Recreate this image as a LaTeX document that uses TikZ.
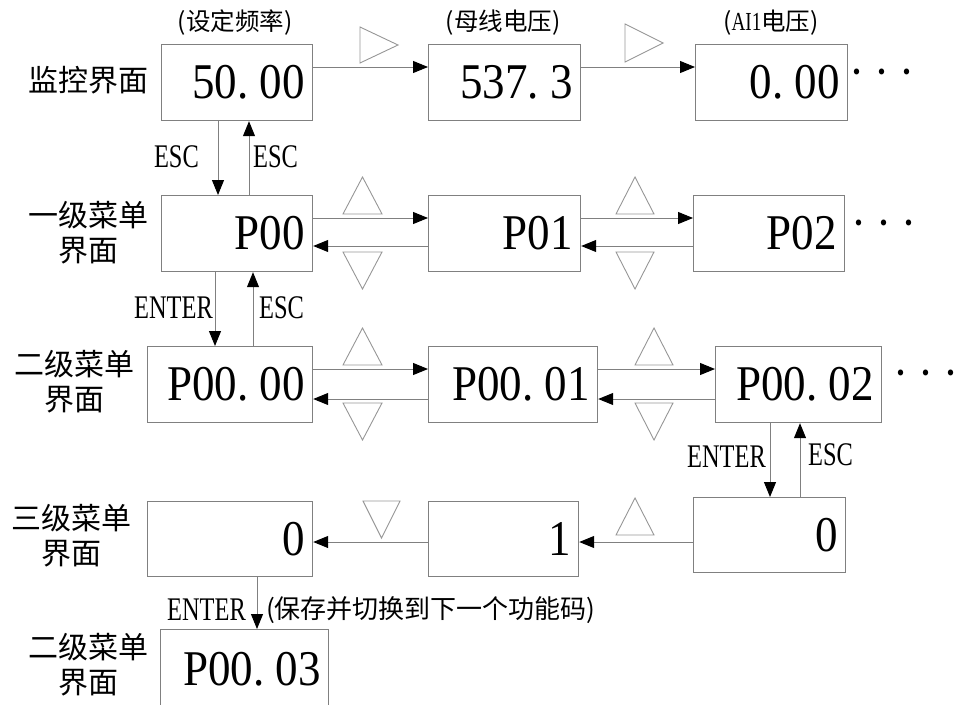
\documentclass[tikz,border=0pt]{standalone}
\usepackage{fontspec}
\setmainfont{Liberation Serif}
\newfontfamily\cjk{Noto Sans CJK SC}
\newfontfamily\boxfont[FakeStretch=0.9]{Liberation Serif}
\newfontfamily\lblfont[FakeStretch=0.74]{Liberation Serif}
\usetikzlibrary{arrows.meta}
\definecolor{ln}{RGB}{128,128,128}
\definecolor{tri}{RGB}{150,150,150}
\newcommand{\pd}{.\hspace{0.225em}}
\newcommand{\threedots}{·\hspace{10pt}·\hspace{10pt}·}
\begin{document}
\begin{tikzpicture}[x=1pt,y=-1pt,
  box/.style={draw=ln,line width=1.2pt,inner xsep=8pt,inner ysep=0pt,align=right,
    font=\boxfont\fontsize{50}{50}\selectfont,anchor=north west},
  arr/.style={draw=ln,line width=1pt,-{Triangle[length=15pt,width=12pt,color=black]}},
  trib/.style={draw=tri,line width=0.9pt,line join=miter},
  rowlbl/.style={align=center,font=\cjk\fontsize{30}{35}\selectfont,inner sep=0},
  keylbl/.style={font=\lblfont\fontsize{33}{33}\selectfont,inner sep=0},
  note/.style={font=\cjk\fontsize{24.5}{24.5}\selectfont,inner sep=0},
  dotsn/.style={font=\boxfont\fontsize{50}{50}\selectfont,inner sep=0,anchor=base west}
]
\useasboundingbox (0,0) rectangle (957,704);

% row labels
\node[rowlbl] (l1) at (88,80) {监控界面};
\node[rowlbl] (l2) at (88,233) {一级菜单\\界面};
\node[rowlbl] (l3) at (74,382) {二级菜单\\界面};
\node[rowlbl] (l4) at (71,536) {三级菜单\\界面};
\node[rowlbl] (l5) at (88,665) {二级菜单\\界面};

% notes
\node[note] (n1) at (235,23) {(设定频率)};
\node[note] (n2) at (503,23) {(母线电压)};
\node[note] (n3) at (771,23) {({\lblfont\fontsize{26}{26}\selectfont AI1}电压)};

% row 1
\node[box,text width=135pt,minimum height=76pt] (m1) at (161,44) {50\pd00};
\node[box,text width=136pt,minimum height=76pt] (m2) at (428,44) {537\pd3};
\node[box,text width=136pt,minimum height=76pt] (m3) at (695,44) {0\pd00};
\node[dotsn] (d1) at (849,88) {\threedots};

% row 2
\node[box,text width=135pt,minimum height=76pt] (a1) at (161,195) {P00};
\node[box,text width=136pt,minimum height=76pt] (a2) at (428,195) {P01};
\node[box,text width=135pt,minimum height=76pt] (a3) at (693,195) {P02};
\node[dotsn] (d2) at (851,239) {\threedots};

% row 3
\node[box,text width=149pt,minimum height=76pt] (b1) at (147,346) {P00\pd00};
\node[box,text width=153pt,minimum height=76pt] (b2) at (428,346) {P00\pd01};
\node[box,text width=150pt,minimum height=76pt] (b3) at (715,346) {P00\pd02};
\node[dotsn] (d3) at (893,389) {\threedots};

% row 4
\node[box,text width=149pt,minimum height=75pt] (c1) at (147,501) {0};
\node[box,text width=134pt,minimum height=75pt] (c2) at (428,501) {1};
\node[box,text width=136pt,minimum height=75pt] (c3) at (693,497) {0};

% row 5
\node[box,text width=152pt,minimum height=80pt] (e1) at (160,629) {P00\pd03};

% horizontal arrows
\draw[arr] (m1.east |- 0,67) -- (m2.west |- 0,67);
\draw[arr] (m2.east |- 0,67) -- (m3.west |- 0,67);
\draw[arr] (a1.east |- 0,218) -- (a2.west |- 0,218);
\draw[arr] (a2.west |- 0,246) -- (a1.east |- 0,246);
\draw[arr] (a2.east |- 0,218) -- (a3.west |- 0,218);
\draw[arr] (a3.west |- 0,246) -- (a2.east |- 0,246);
\draw[arr] (b1.east |- 0,369) -- (b2.west |- 0,369);
\draw[arr] (b2.west |- 0,399) -- (b1.east |- 0,399);
\draw[arr] (b2.east |- 0,369) -- (b3.west |- 0,369);
\draw[arr] (b3.west |- 0,399) -- (b2.east |- 0,399);
\draw[arr] (c3.west |- 0,542) -- (c2.east |- 0,542);
\draw[arr] (c2.west |- 0,542) -- (c1.east |- 0,542);

% vertical arrows
\draw[arr] ([xshift=57pt]m1.south west) -- ([xshift=57pt]m1.south west |- a1.north);
\draw[arr] ([xshift=88pt]m1.south west |- a1.north) -- ([xshift=88pt]m1.south west);
\draw[arr] ([xshift=54pt]a1.south west) -- ([xshift=54pt]a1.south west |- b1.north);
\draw[arr] ([xshift=92pt]a1.south west |- b1.north) -- ([xshift=92pt]a1.south west);
\draw[arr] ([xshift=55pt]b3.south west) -- ([xshift=55pt]b3.south west |- c3.north);
\draw[arr] ([xshift=85pt]b3.south west |- c3.north) -- ([xshift=85pt]b3.south west);
\draw[arr] ([xshift=110pt]c1.south west) -- ([xshift=110pt]c1.south west |- e1.north);

% key labels
\node[keylbl,anchor=east] (k1) at (199,157) {ESC};
\node[keylbl,anchor=west] (k2) at (253,157) {ESC};
\node[keylbl,anchor=east] (k3) at (213,308) {ENTER};
\node[keylbl,anchor=west] (k4) at (259,308) {ESC};
\node[keylbl,anchor=east] (k5) at (766,457) {ENTER};
\node[keylbl,anchor=west] (k6) at (808,455) {ESC};
\node[keylbl,anchor=east] (k7) at (246,610) {ENTER};
\node[note,anchor=west,font=\cjk\fontsize{26}{26}\selectfont] (n4) at (266,610) {(保存并切换到下一个功能码)};

% triangle symbols
\draw[trib] (360,27) -- (398,45) -- (360,63) -- cycle;
\draw[trib] (625,24) -- (663,43) -- (625,62) -- cycle;
\draw[trib] (343,214) -- (362.5,177) -- (382,214) -- cycle;
\draw[trib] (343,252) -- (382,252) -- (362.5,289) -- cycle;
\draw[trib] (616,214) -- (635,177) -- (654,214) -- cycle;
\draw[trib] (616,252) -- (654,252) -- (635,289) -- cycle;
\draw[trib] (343,365) -- (362.5,328) -- (382,365) -- cycle;
\draw[trib] (343,403) -- (382,403) -- (362.5,440) -- cycle;
\draw[trib] (635,365) -- (654,328) -- (673,365) -- cycle;
\draw[trib] (635,403) -- (673,403) -- (654,440) -- cycle;
\draw[trib] (363,501) -- (400,501) -- (381.5,538) -- cycle;
\draw[trib] (616,535) -- (635,498) -- (654,535) -- cycle;
\end{tikzpicture}
\end{document}
